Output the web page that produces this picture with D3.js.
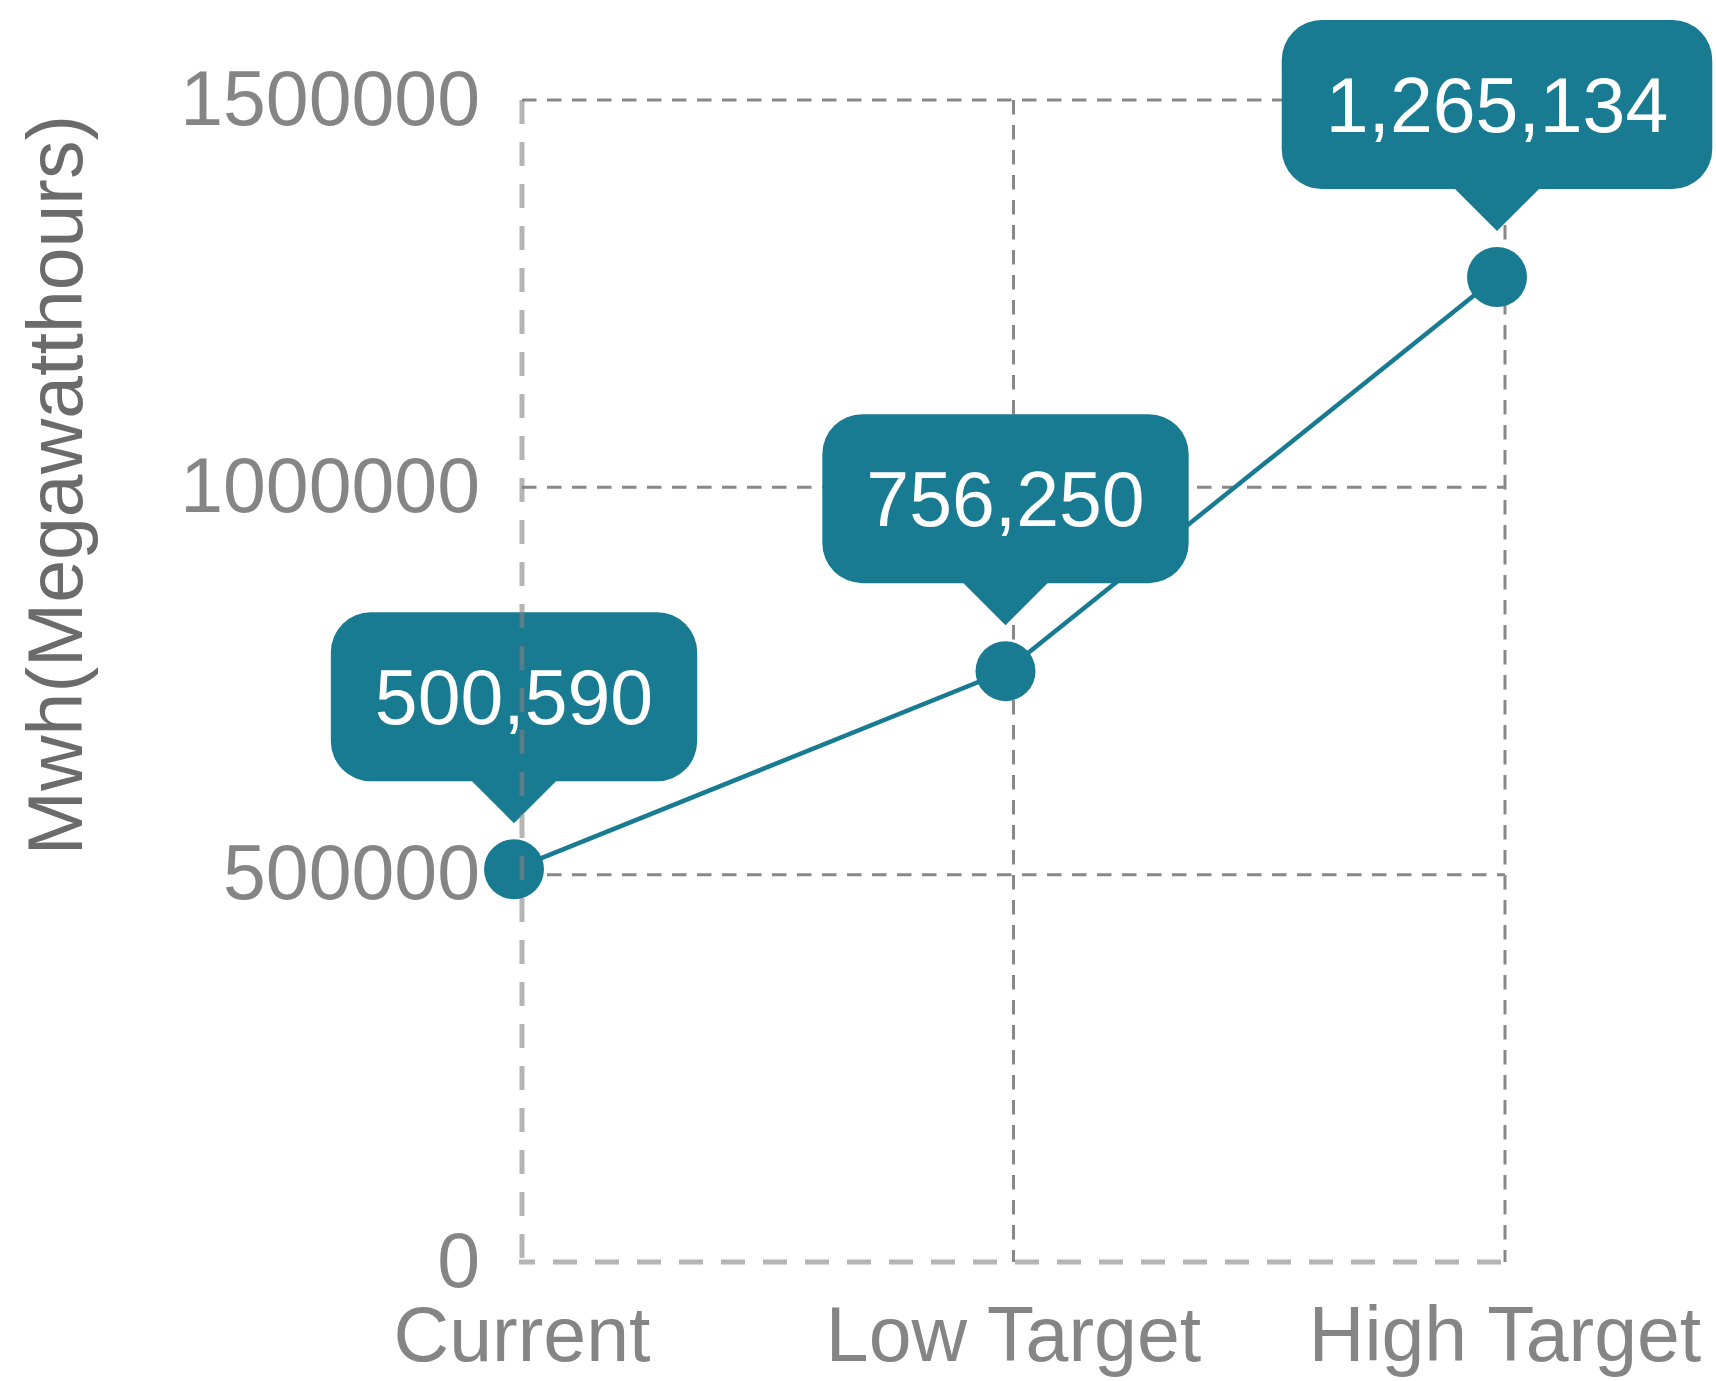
<!DOCTYPE html>
<html>
<head>
<meta charset="utf-8">
<script src="https://cdn.jsdelivr.net/npm/d3@7"></script>
<style>
  body { margin: 0; background: #fff; }
  text { font-family: "Liberation Sans", Arial, sans-serif; }
</style>
</head>
<body>
<div id="chart"></div>
<script>
// ---------------------------------------
// data
const categories = ["Current", "Low Target", "High Target"];
const values = [500590, 756250, 1265134];
const yTicks = [0, 500000, 1000000, 1500000];
const yTitle = "Mwh(Megawatthours)";

// ---------------------------------------
// svg params
const width = 1716;
const height = 1381;
const teal = "#187b92";
const fontSize = 77;

const svg = d3.select("#chart")
    .append("svg")
    .attr("width", width)
    .attr("height", height);

const x = d3.scalePoint()
    .domain(categories)
    .range([522, 1505]);

const y = d3.scaleLinear()
    .domain([0, 1500000])
    .range([1262, 100]);

// the markers sit slightly off the grid in the original
const mdx = -8;
const mdy = -5;
const px = (c) => x(c) + mdx;
const py = (v) => y(v) + mdy;

const data = categories.map((c, i) => ({cat: c, value: values[i]}));

// ---------------------------------------
// grid
const grid = svg.append("g")
    .attr("stroke", "#888")
    .attr("stroke-width", 3)
    .attr("stroke-dasharray", "14.5,10.5");

grid.selectAll(".hgrid")
    .data(yTicks.slice(1))
    .enter()
    .append("line")
    .attr("class", "hgrid")
    .attr("x1", x.range()[0])
    .attr("x2", x.range()[1])
    .attr("y1", (d) => y(d))
    .attr("y2", (d) => y(d));

grid.selectAll(".vgrid")
    .data(categories.slice(1))
    .enter()
    .append("line")
    .attr("class", "vgrid")
    .attr("x1", (d) => x(d))
    .attr("x2", (d) => x(d))
    .attr("y1", y.range()[1])
    .attr("y2", y.range()[0]);

// ---------------------------------------
// tick labels + title
svg.append("g")
    .selectAll("text")
    .data(yTicks)
    .enter()
    .append("text")
    .attr("x", 480)
    .attr("y", (d) => y(d))
    .attr("dy", "0.32em")
    .attr("text-anchor", "end")
    .attr("font-size", fontSize)
    .attr("fill", "#858585")
    .text((d) => d);

svg.append("g")
    .selectAll("text")
    .data(categories)
    .enter()
    .append("text")
    .attr("x", (d) => x(d))
    .attr("y", 1361)
    .attr("text-anchor", "middle")
    .attr("font-size", fontSize)
    .attr("fill", "#858585")
    .text((d) => d);

svg.append("text")
    .attr("transform", "translate(82,485) rotate(-90)")
    .attr("text-anchor", "middle")
    .attr("font-size", fontSize)
    .attr("fill", "#6b6b6b")
    .text(yTitle);

// ---------------------------------------
// line + points
const line = d3.line()
    .x((d) => px(d.cat))
    .y((d) => py(d.value));

svg.append("path")
    .datum(data)
    .attr("d", line)
    .attr("fill", "none")
    .attr("stroke", teal)
    .attr("stroke-width", 4.5);

svg.selectAll(".pt")
    .data(data)
    .enter()
    .append("circle")
    .attr("class", "pt")
    .attr("cx", (d) => px(d.cat))
    .attr("cy", (d) => py(d.value))
    .attr("r", 30)
    .attr("fill", teal);

// ---------------------------------------
// callouts
const fmt = d3.format(",");
const tips = svg.selectAll(".tip")
    .data(data)
    .enter()
    .append("g")
    .attr("class", "tip");

tips.each(function(d) {
  const g = d3.select(this);
  const cx = px(d.cat);
  const bottom = py(d.value) - 88;
  const top = bottom - 169;
  const label = g.append("text")
      .attr("x", cx)
      .attr("y", (top + bottom) / 2)
      .attr("dy", "0.36em")
      .attr("text-anchor", "middle")
      .attr("font-size", fontSize)
      .attr("fill", "#fff")
      .text(fmt(d.value));
  const half = label.node().getComputedTextLength() / 2 + 44;
  const x0 = cx - half;
  const x1 = cx + half;
  const r = 40;
  const p = d3.path();
  p.moveTo(x0 + r, top);
  p.lineTo(x1 - r, top);
  p.arcTo(x1, top, x1, top + r, r);
  p.lineTo(x1, bottom - r);
  p.arcTo(x1, bottom, x1 - r, bottom, r);
  p.lineTo(cx + 42, bottom);
  p.lineTo(cx, bottom + 42);
  p.lineTo(cx - 42, bottom);
  p.lineTo(x0 + r, bottom);
  p.arcTo(x0, bottom, x0, bottom - r, r);
  p.lineTo(x0, top + r);
  p.arcTo(x0, top, x0 + r, top, r);
  p.closePath();
  g.insert("path", "text")
      .attr("d", p.toString())
      .attr("fill", teal);
});

// ---------------------------------------
// axes, drawn last and half transparent
const axes = svg.append("g")
    .attr("stroke", "#808080")
    .attr("stroke-opacity", 0.585)
    .attr("stroke-width", 5)
    .attr("stroke-dasharray", "24,18");

axes.append("line")
    .attr("x1", x.range()[0])
    .attr("x2", x.range()[0])
    .attr("y1", y.range()[1])
    .attr("y2", y.range()[0]);

axes.append("line")
    .attr("x1", x.range()[0] - 3)
    .attr("x2", x.range()[1])
    .attr("y1", y.range()[0])
    .attr("y2", y.range()[0])
    .attr("stroke-dashoffset", 8);
</script>
</body>
</html>
